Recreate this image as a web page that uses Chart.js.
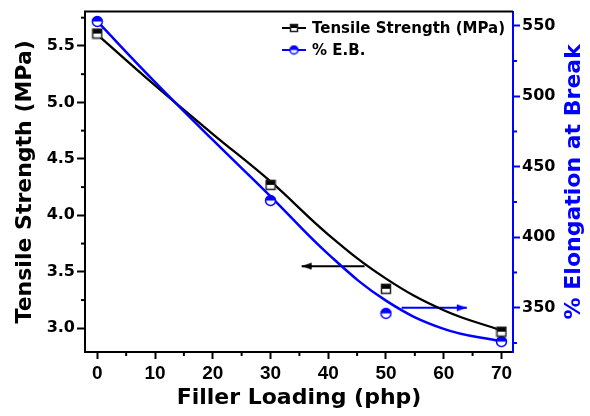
<!DOCTYPE html>
<html lang="en">
<head>
<meta charset="UTF-8">
<title>Tensile Strength and % E.B. vs Filler Loading</title>
<style>
  html, body { margin: 0; padding: 0; background: #fff; }
  canvas { display: block; }
</style>
<script src="https://cdn.jsdelivr.net/npm/chart.js"></script>
</head>
<body>
<canvas id="chart" width="590" height="416"></canvas>
<script>
// measured points
const loading = [0, 30, 50, 70];
const tensile = [5.61, 4.27, 3.35, 2.97];
const elongation = [553, 426, 346, 326];

// fitted curves
const fitLoading = [0, 10, 20, 30, 40, 50, 60, 70];
const tensileFit = [5.60, 5.15, 4.72, 4.30, 3.83, 3.44, 3.16, 2.98];
const elongationFit = [553, 510, 469, 429, 388, 355, 335, 326];

// axis ticks
const xTicks = [0, 10, 20, 30, 40, 50, 60, 70];
const tsTicks = [3.0, 3.5, 4.0, 4.5, 5.0, 5.5];
const ebTicks = [350, 400, 450, 500, 550];

// arrows that point each curve to its axis
const tsArrow = { from: 46.3, to: 35.4, y: 3.55 };
const ebArrow = { from: 52.7, to: 64.0, y: 350 };

const BLUE = '#0000ff';
const BOLD = 'DejaVu Sans';

function pts(xs, ys) {
  return xs.map((x, i) => ({ x: x, y: ys[i] }));
}

// half filled markers like the Origin plot
function halfSquare(size, fill, edge) {
  const c = document.createElement('canvas');
  c.width = size + 2; c.height = size + 2;
  const g = c.getContext('2d');
  g.fillStyle = '#fff';
  g.fillRect(1, 1, size, size);
  g.fillStyle = fill;
  g.fillRect(1, 1, size, size / 2);
  g.strokeStyle = edge;
  g.lineWidth = 1.5;
  g.strokeRect(1.5, 1.5, size - 1, size - 1);
  return c;
}

function halfCircle(size, color) {
  const c = document.createElement('canvas');
  c.width = size + 2; c.height = size + 2;
  const g = c.getContext('2d');
  const r = size / 2, m = size / 2 + 1;
  g.fillStyle = '#fff';
  g.beginPath(); g.arc(m, m, r - 0.5, 0, Math.PI * 2); g.fill();
  g.fillStyle = color;
  g.beginPath(); g.arc(m, m, r - 0.5, Math.PI, Math.PI * 2); g.closePath(); g.fill();
  g.strokeStyle = color;
  g.lineWidth = 1.5;
  g.beginPath(); g.arc(m, m, r - 0.5, 0, Math.PI * 2); g.stroke();
  return c;
}

// arrow head; tip sits at the middle of the image
function arrowHead(color, dir) {
  const c = document.createElement('canvas');
  c.width = 22; c.height = 8;
  const g = c.getContext('2d');
  g.fillStyle = color;
  g.beginPath();
  if (dir > 0) { g.moveTo(11, 4); g.lineTo(1, 0.5); g.lineTo(1, 7.5); }
  else { g.moveTo(11, 4); g.lineTo(21, 0.5); g.lineTo(21, 7.5); }
  g.closePath(); g.fill();
  return c;
}

const sqMark = halfSquare(10, '#000', '#222');
const ciMark = halfCircle(11, BLUE);
const sqSmall = halfSquare(8, '#000', '#222');
const ciSmall = halfCircle(9, BLUE);

const legendItems = [
  { text: 'Tensile Strength (MPa)', color: '#000', mark: sqSmall },
  { text: '% E.B.', color: BLUE, mark: ciSmall }
];

const extras = {
  id: 'extras',
  afterDraw(chart) {
    const ctx = chart.ctx;
    const a = chart.chartArea;
    ctx.save();
    // top frame line
    ctx.strokeStyle = '#000';
    ctx.lineWidth = 2;
    ctx.beginPath(); ctx.moveTo(a.left - 1, a.top); ctx.lineTo(a.right, a.top); ctx.stroke();

    // minor ticks half way between major ones
    const minor = (scale, vals, color, len) => {
      ctx.strokeStyle = color;
      ctx.lineWidth = 2;
      const step = vals[1] - vals[0];
      const list = [vals[0] - step / 2].concat(vals.map(v => v + step / 2));
      list.forEach(v => {
        if (v < scale.min || v > scale.max) return;
        const p = scale.getPixelForValue(v);
        ctx.beginPath();
        if (scale.axis === 'x') { ctx.moveTo(p, a.bottom); ctx.lineTo(p, a.bottom + len); }
        else if (scale.position === 'left') { ctx.moveTo(a.left, p); ctx.lineTo(a.left - len, p); }
        else { ctx.moveTo(a.right, p); ctx.lineTo(a.right + len, p); }
        ctx.stroke();
      });
    };
    minor(chart.scales.x, xTicks, '#000', 4);
    minor(chart.scales.y, tsTicks, '#000', 4);
    minor(chart.scales.y2, ebTicks, BLUE, 4);

    // right axis title, reads bottom to top
    ctx.fillStyle = BLUE;
    ctx.font = 'bold 22px "' + BOLD + '"';
    ctx.textAlign = 'center';
    ctx.textBaseline = 'middle';
    ctx.translate(574, (a.top + a.bottom) / 2);
    ctx.rotate(-Math.PI / 2);
    ctx.fillText('% Elongation at Break', 0, 0);
    ctx.restore();

    // legend inside the plot
    ctx.save();
    ctx.font = 'bold 15px "' + BOLD + '"';
    ctx.textBaseline = 'middle';
    ctx.textAlign = 'left';
    legendItems.forEach((it, i) => {
      const y = 28 + i * 22;
      ctx.strokeStyle = it.color;
      ctx.lineWidth = 2;
      ctx.beginPath(); ctx.moveTo(282, y); ctx.lineTo(306, y); ctx.stroke();
      ctx.drawImage(it.mark, 294 - it.mark.width / 2, y - it.mark.height / 2);
      ctx.fillStyle = '#000';
      ctx.fillText(it.text, 312, y + 1);
    });
    ctx.restore();
  }
};

const ctx = document.getElementById('chart').getContext('2d');
new Chart(ctx, {
  type: 'line',
  data: {
    datasets: [
      {
        data: pts(loading, tensile), yAxisID: 'y', showLine: false,
        pointStyle: sqMark, pointRadius: 5
      },
      {
        data: pts(loading, elongation), yAxisID: 'y2', showLine: false,
        pointStyle: ciMark, pointRadius: 5
      },
      {
        data: pts(fitLoading, elongationFit), yAxisID: 'y2',
        borderColor: BLUE, borderWidth: 2.5, pointRadius: 0, tension: 0.4
      },
      {
        data: pts(fitLoading, tensileFit), yAxisID: 'y',
        borderColor: '#000', borderWidth: 2.3, pointRadius: 0, tension: 0.4
      },
      {
        data: [{ x: tsArrow.from, y: tsArrow.y }, { x: tsArrow.to, y: tsArrow.y }], yAxisID: 'y',
        borderColor: '#000', borderWidth: 2, pointRadius: [0, 5],
        pointStyle: arrowHead('#000', -1)
      },
      {
        data: [{ x: ebArrow.from, y: ebArrow.y }, { x: ebArrow.to, y: ebArrow.y }], yAxisID: 'y2',
        borderColor: BLUE, borderWidth: 2, pointRadius: [0, 5],
        pointStyle: arrowHead(BLUE, 1)
      }
    ]
  },
  options: {
    responsive: false,
    animation: false,
    events: [],
    layout: { padding: { top: 8, left: 0, right: 0, bottom: 0 } },
    plugins: { legend: { display: false }, tooltip: { enabled: false } },
    scales: {
      x: {
        type: 'linear', position: 'bottom', min: -2.13, max: 72,
        afterBuildTicks: s => { s.ticks = xTicks.map(v => ({ value: v })); },
        afterFit: s => { s.height = 64; },
        grid: { drawOnChartArea: false, tickLength: 7, tickWidth: 2, tickColor: '#000' },
        border: { color: '#000', width: 2 },
        ticks: {
          color: '#000', padding: 3, maxRotation: 0, autoSkip: false,
          font: { family: 'Liberation Sans', size: 19, weight: 'bold' }
        },
        title: {
          display: true, text: 'Filler Loading (php)', color: '#000',
          font: { family: BOLD, size: 22, weight: 'bold' }, padding: { top: 0, bottom: 5 }
        }
      },
      y: {
        type: 'linear', position: 'left', min: 2.79, max: 5.804,
        afterBuildTicks: s => { s.ticks = tsTicks.map(v => ({ value: v })); },
        afterFit: s => { s.width = 85; },
        grid: { drawOnChartArea: false, tickLength: 8, tickWidth: 2, tickColor: '#000' },
        border: { color: '#000', width: 2 },
        ticks: {
          color: '#000', padding: 2,
          font: { family: BOLD, size: 16, weight: 'bold' },
          callback: v => v.toFixed(1)
        },
        title: {
          display: true, text: 'Tensile Strength (MPa)', color: '#000',
          font: { family: BOLD, size: 22, weight: 'bold' }, padding: { top: 12, bottom: 0 }
        }
      },
      y2: {
        type: 'linear', position: 'right', min: 318.6, max: 560,
        afterBuildTicks: s => { s.ticks = ebTicks.map(v => ({ value: v })); },
        afterFit: s => { s.width = 77; },
        grid: { drawOnChartArea: false, tickLength: 7, tickWidth: 2, tickColor: BLUE },
        border: { color: BLUE, width: 2 },
        ticks: {
          color: '#000', padding: 2,
          font: { family: BOLD, size: 16, weight: 'bold' }
        }
      }
    }
  },
  plugins: [extras]
});
</script>
</body>
</html>
